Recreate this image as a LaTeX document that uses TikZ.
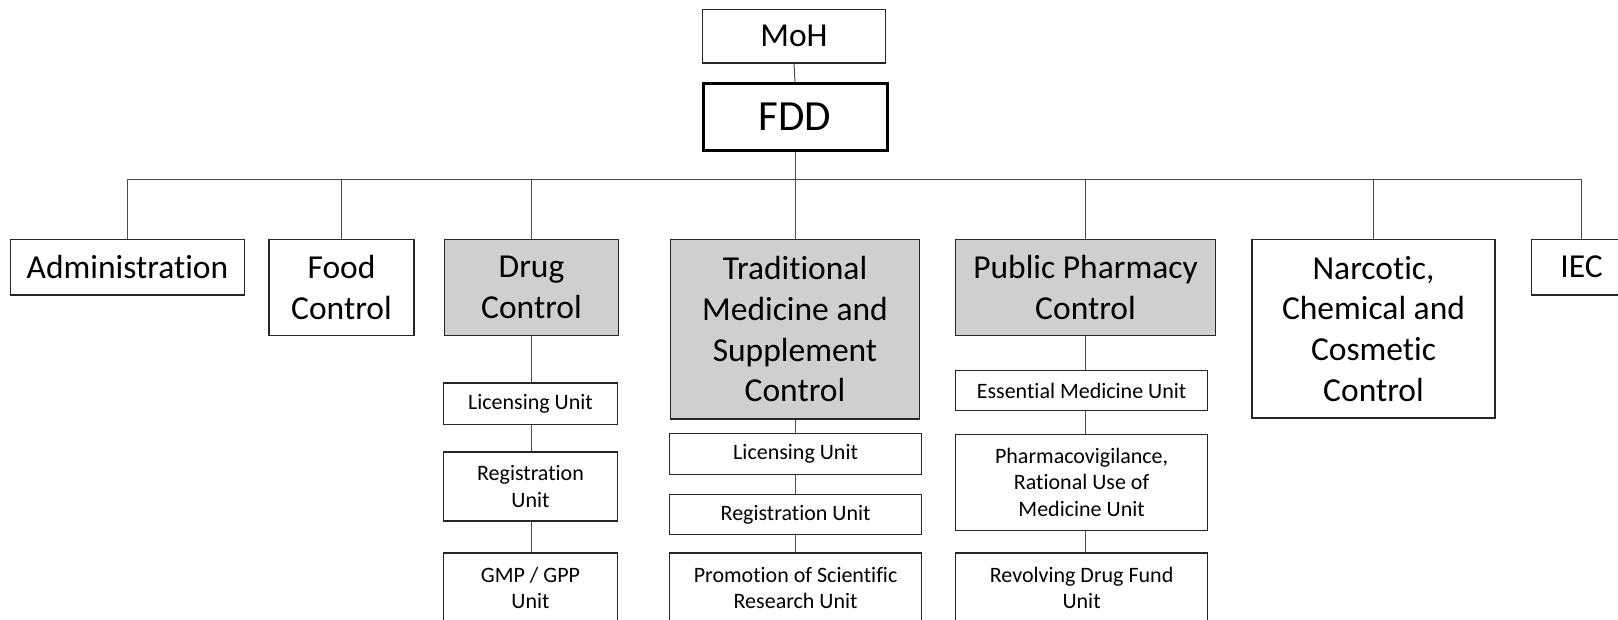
\documentclass[tikz,border=0pt]{standalone}
\usepackage{fontspec}
\setmainfont{Carlito}[Ligatures=NoCommon, RawFeature={-liga;-clig;-dlig}]
\begin{document}
\definecolor{boxgray}{HTML}{D0CECE}
\definecolor{edge}{HTML}{262626}
\definecolor{wire}{HTML}{4A4A4A}
\begin{tikzpicture}[x=1pt,y=-1pt,
  box/.style={draw=edge, line width=1.3pt, fill=white, align=center, inner sep=0pt, text=black},
  big/.style={box, font=\fontsize{33.5}{40.8}\selectfont},
  small/.style={box, font=\fontsize{22}{26.8}\selectfont},
  shaded/.style={fill=boxgray},
  wirestyle/.style={draw=wire, line width=1pt}]
\useasboundingbox (0,0) rectangle (1618,619);
\fill[white] (0,0) rectangle (1618,619);
% top
\node[big, minimum width=183pt, minimum height=53.5pt] (moh) at (794,36.3) {MoH};
\node[box, line width=3pt, draw=black, font=\fontsize{43}{50}\selectfont, minimum width=184pt, minimum height=67pt] (fdd) at (795,117) {FDD};
% level 2
\node[big, minimum width=234pt, minimum height=55.5pt] (admin) at (127.5,267.2) {Administration};
\node[big, minimum width=145pt, minimum height=96pt] (food) at (341.5,287.5) {Food\\Control};
\node[big, shaded, minimum width=173.5pt, minimum height=96pt] (drug) at (531.5,287.5) {Drug\\Control};
\node[big, shaded, minimum width=249pt, minimum height=179.5pt] (trad) at (795,329.2) {Traditional\\Medicine and\\Supplement\\Control};
\node[big, shaded, minimum width=260pt, minimum height=96pt] (pp) at (1085.5,287.5) {Public Pharmacy\\Control};
\node[big, minimum width=243pt, minimum height=178.5pt] (narc) at (1373.5,328.8) {Narcotic,\\Chemical and\\Cosmetic\\Control};
\node[big, minimum width=100pt, minimum height=55.5pt] (iec) at (1581.5,267.2) {IEC};
% drug units
\node[small, minimum width=174pt, minimum height=41.3pt] (dlic) at (530.5,403.5) {Licensing Unit};
\node[small, minimum width=174pt, minimum height=69pt] (dreg) at (530.5,486.5) {Registration\\Unit};
\node[small, minimum width=174pt, minimum height=70pt] (dgmp) at (530.5,588) {GMP / GPP\\Unit};
% traditional units
\node[small, minimum width=252pt, minimum height=41.3pt] (tlic) at (795.6,454) {Licensing Unit};
\node[small, minimum width=252pt, minimum height=40.2pt] (treg) at (795.6,514.4) {Registration Unit};
\node[small, minimum width=252pt, minimum height=70pt] (tpro) at (795.6,588) {Promotion of Scientific\\Research Unit};
% public pharmacy units
\node[small, minimum width=252pt, minimum height=40.3pt] (pess) at (1081.6,390.5) {Essential Medicine Unit};
\node[small, minimum width=252pt, minimum height=96pt] (ppv) at (1081.6,482.4) {Pharmacovigilance,\\Rational Use of\\Medicine Unit};
\node[small, minimum width=252pt, minimum height=70pt] (prev) at (1081.6,588) {Revolving Drug Fund\\Unit};
% connectors
\coordinate (bus) at (0,179.3);
\draw[wirestyle] (moh.south) -- (fdd.north);
\draw[wirestyle] (fdd.south) -- (trad.north);
\draw[wirestyle] (admin.north) -- (admin.north |- bus) -- (iec.north |- bus) -- (iec.north);
\draw[wirestyle] (food.north) -- (food.north |- bus);
\draw[wirestyle] (drug.north) -- (drug.north |- bus);
\draw[wirestyle] (pp.north) -- (pp.north |- bus);
\draw[wirestyle] (narc.north) -- (narc.north |- bus);
\draw[wirestyle] (drug.south) -- (drug.south |- dlic.north);
\draw[wirestyle] (drug.south |- dlic.south) -- (drug.south |- dreg.north);
\draw[wirestyle] (drug.south |- dreg.south) -- (drug.south |- dgmp.north);
\draw[wirestyle] (trad.south) -- (trad.south |- tlic.north);
\draw[wirestyle] (trad.south |- tlic.south) -- (trad.south |- treg.north);
\draw[wirestyle] (trad.south |- treg.south) -- (trad.south |- tpro.north);
\draw[wirestyle] (pp.south) -- (pp.south |- pess.north);
\draw[wirestyle] (pp.south |- pess.south) -- (pp.south |- ppv.north);
\draw[wirestyle] (pp.south |- ppv.south) -- (pp.south |- prev.north);
\end{tikzpicture}
\end{document}
